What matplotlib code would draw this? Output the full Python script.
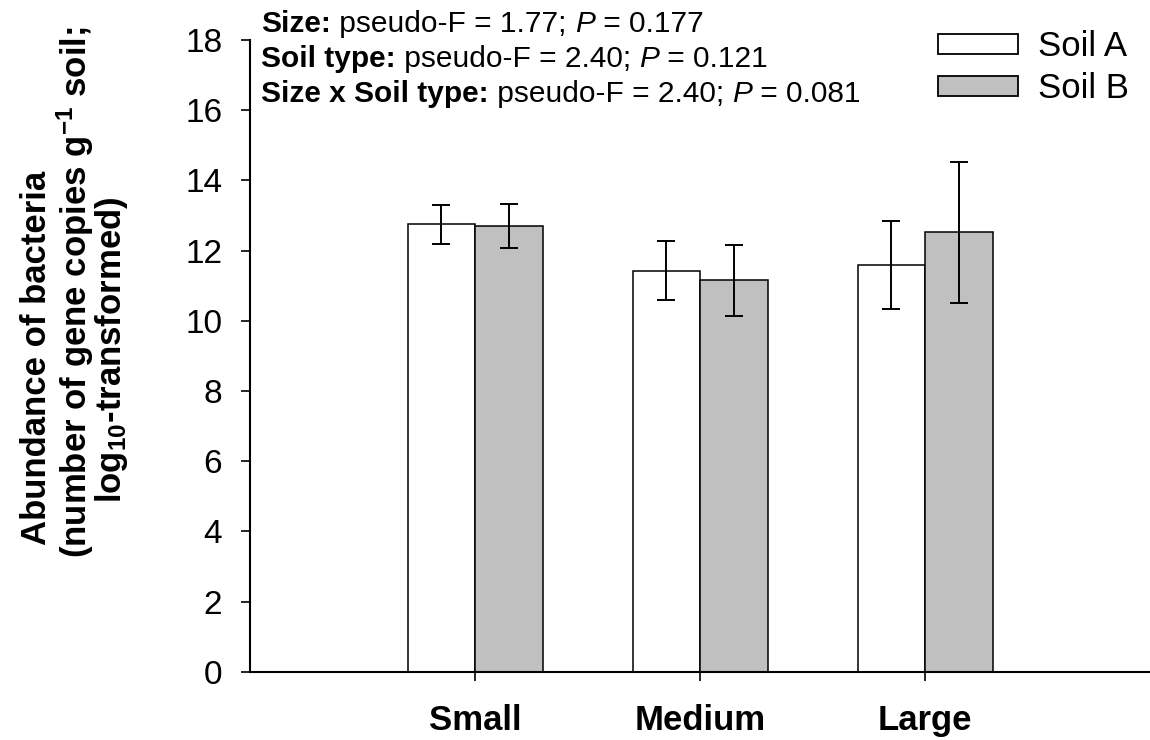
import numpy as np
import matplotlib.pyplot as plt

plt.rcParams['font.family'] = ['Liberation Sans', 'DejaVu Sans']
plt.rcParams['mathtext.fontset'] = 'custom'
plt.rcParams['mathtext.rm'] = 'Liberation Sans:bold'
plt.rcParams['mathtext.bf'] = 'Liberation Sans:bold'
plt.rcParams['mathtext.it'] = 'Liberation Sans:italic'

# data
sizes = ['Small', 'Medium', 'Large']
soil_a = [12.75, 11.42, 11.59]
soil_a_err = [0.55, 0.84, 1.25]
soil_b = [12.71, 11.15, 12.52]
soil_b_err = [0.63, 1.01, 2.0]
stats_lines = [
    ('Size:', ' pseudo-F = 1.77; ', 'P', ' = 0.177'),
    ('Soil type:', ' pseudo-F = 2.40; ', 'P', ' = 0.121'),
    ('Size x Soil type:', ' pseudo-F = 2.40; ', 'P', ' = 0.081'),
]
ylabel_lines = ['Abundance of bacteria',
                '(number of gene copies g$^{-1}$ soil;',
                'log$_{10}$-transformed)']

fig = plt.figure(figsize=(11.5, 7.4), dpi=100)
ax = fig.add_axes([0.2174, 0.0923, 0.7826, 0.8536])

x = np.arange(len(sizes))
w = 0.3
ebkw = dict(elinewidth=1.4, capthick=1.4, ecolor='black')
ax.bar(x - w / 2, soil_a, w, yerr=soil_a_err, capsize=6.8, color='white',
       edgecolor='black', linewidth=1.1, label='Soil A', error_kw=ebkw)
ax.bar(x + w / 2, soil_b, w, yerr=soil_b_err, capsize=6.8, color='#c0c0c0',
       edgecolor='black', linewidth=1.1, label='Soil B', error_kw=ebkw)

ax.set_xlim(-1, 3)
ax.set_ylim(0, 18)
ax.set_yticks(np.arange(0, 19, 2))
ax.set_xticks(x)
ax.set_xticklabels(sizes, fontsize=25, fontweight='bold')
ax.tick_params(axis='y', labelsize=24, length=6.5, width=1.2, direction='out', pad=13.5)
ax.tick_params(axis='x', length=6.5, width=1.2, direction='out', pad=16.5)
for s in ['top', 'right']:
    ax.spines[s].set_visible(False)
for s in ['left', 'bottom']:
    ax.spines[s].set_linewidth(1.5)

# y label, three lines placed like the original
for (px, py), line in zip([(37, 358), (75, 292), (112, 350)], ylabel_lines):
    fig.text(px / 1150, 1 - py / 740, line, rotation=90, ha='center', va='center',
             fontsize=25, fontweight='bold')

# stats text, mixed bold / normal / italic
for i, (head, mid, p, tail) in enumerate(stats_lines):
    yv = 18.45 - i
    t = ax.text(-0.949, yv, head, fontsize=21.5, fontweight='bold', va='center',
                ha='left', clip_on=False)
    for part, style in [(mid, 'normal'), (p, 'italic'), (tail, 'normal')]:
        t = ax.annotate(part, xy=(1, 0), xycoords=t, va='bottom', ha='left',
                        fontsize=21.5, fontstyle=style, annotation_clip=False)

leg = ax.legend(loc='upper left', bbox_to_anchor=(938 / 1150, 1 - 30 / 740),
                bbox_transform=fig.transFigure, frameon=False, borderpad=0,
                borderaxespad=0, fontsize=25, handlelength=2.3, handleheight=0.52,
                labelspacing=0.27, handletextpad=0.58)
for h in leg.legend_handles:
    h.set_linewidth(1.3)

fig.savefig('out.png', dpi=100)
